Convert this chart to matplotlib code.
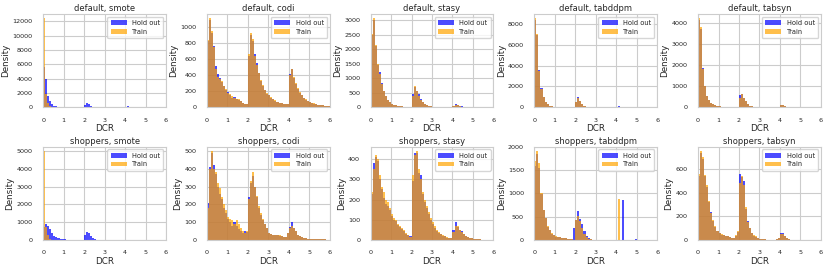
import matplotlib
matplotlib.use("Agg")
import matplotlib.pyplot as plt
from matplotlib.ticker import MaxNLocator
import numpy as np
import seaborn as sns

sns.set_theme(style="whitegrid")
plt.rcParams["font.family"] = ["DejaVu Sans"]

N_BINS = 60
BIN_EDGES = np.round(np.arange(0, 6.0, 0.1), 2)
BIN_WIDTH = 0.1

DATASETS = ["default", "shoppers"]
MODELS = ["smote", "codi", "stasy", "tabddpm", "tabsyn"]


def pad(vals):
    return list(vals) + [0] * (N_BINS - len(vals))


# bin heights per 0.1 DCR bin
default_smote_hold = pad([5700, 3900, 1650, 900, 500, 250, 150, 80, 50, 30, 20, 10, 5, 0, 0, 0, 0, 0, 0, 0,
                          300, 650, 450, 250, 100, 40, 20, 0, 0, 0, 0, 0, 0, 0, 0, 0, 0, 0, 0, 0,
                          60, 150, 60])
default_smote_train = pad([12400, 1900, 600, 150, 60, 20])

default_codi_hold = pad([820, 1080, 920, 760, 510, 410, 370, 320, 260, 220, 190, 150, 120, 125, 110, 95, 75, 55, 45, 40,
                         640, 900, 820, 660, 550, 420, 330, 270, 210, 170, 150, 120, 100, 85, 70, 60, 50, 45, 40, 40,
                         410, 470, 370, 290, 230, 180, 150, 120, 95, 80, 65, 55, 45, 40, 35, 30, 25, 20, 15, 12])
default_codi_train = pad([840, 1100, 940, 750, 470, 380, 350, 330, 270, 230, 180, 160, 140, 115, 110, 100, 80, 60, 45, 40,
                          660, 920, 850, 640, 520, 430, 340, 280, 220, 180, 150, 130, 110, 90, 70, 60, 50, 45, 40, 40,
                          400, 480, 380, 300, 240, 190, 150, 120, 100, 80, 70, 60, 50, 40, 35, 30, 25, 20, 15, 12])

default_stasy_hold = pad([2480, 3000, 2100, 1450, 1200, 850, 560, 390, 270, 190, 130, 100, 80, 60, 50, 40, 30, 20, 15, 10,
                          470, 700, 560, 450, 300, 200, 120, 80, 55, 35, 25, 20, 15, 12, 10, 8, 6, 5, 4, 4,
                          60, 110, 100, 60, 35, 15, 8, 4])
default_stasy_train = pad([2520, 3050, 2150, 1500, 1150, 800, 550, 380, 260, 180, 130, 100, 80, 60, 50, 40, 30, 20, 15, 10,
                           400, 730, 560, 400, 270, 170, 110, 70, 50, 35, 25, 20, 15, 12, 10, 8, 6, 5, 4, 4,
                           50, 100, 90, 60, 30, 15, 8, 4])

default_tabddpm_hold = pad([8400, 6950, 3550, 1850, 1000, 560, 310, 180, 120, 80, 60, 40, 30, 20, 15, 10, 6, 4, 2, 2,
                            480, 1000, 650, 340, 160, 80, 40, 20, 10, 5, 0, 0, 0, 0, 0, 0, 0, 0, 0, 0,
                            40, 100, 70, 20])
default_tabddpm_train = pad([8500, 7000, 3500, 1800, 1000, 550, 300, 180, 120, 80, 60, 40, 30, 20, 15, 10, 6, 4, 2, 2,
                             500, 900, 600, 320, 150, 80, 40, 20, 10, 5, 0, 0, 0, 0, 0, 0, 0, 0, 0, 0,
                             40, 80, 60, 20])

default_tabsyn_hold = pad([4150, 3700, 1850, 1000, 560, 350, 220, 150, 100, 70, 50, 35, 25, 15, 10, 8, 5, 3, 2, 2,
                           600, 640, 450, 280, 160, 90, 50, 30, 15, 8, 0, 0, 0, 0, 0, 0, 0, 0, 0, 0,
                           100, 120, 80, 40, 10])
default_tabsyn_train = pad([4200, 3800, 1800, 1000, 550, 350, 220, 150, 100, 70, 50, 35, 25, 15, 10, 8, 5, 3, 2, 2,
                            450, 650, 450, 280, 160, 90, 50, 30, 15, 8, 0, 0, 0, 0, 0, 0, 0, 0, 0, 0,
                            100, 110, 80, 40, 10])

shoppers_smote_hold = pad([750, 920, 800, 600, 400, 250, 180, 130, 80, 60, 40, 25, 15, 10, 5, 0, 0, 0, 0, 0,
                           300, 450, 380, 250, 130, 60, 20, 0, 0, 0, 0, 0, 0, 0, 0, 0, 0, 0, 0, 0,
                           10, 20, 10])
shoppers_smote_train = pad([5000, 720, 300, 60, 20])

shoppers_codi_hold = pad([210, 410, 490, 420, 370, 300, 260, 230, 180, 150, 120, 100, 80, 100, 80, 60, 50, 40, 50, 45,
                          240, 320, 360, 300, 240, 180, 140, 110, 90, 65, 40, 35, 30, 30, 30, 25, 20, 15, 15, 40,
                          75, 100, 70, 50, 30, 20, 15, 10, 10, 8, 8, 5, 5, 4, 4, 3, 8, 3, 2, 2])
shoppers_codi_train = pad([180, 400, 500, 400, 380, 320, 290, 240, 200, 170, 130, 120, 110, 90, 110, 90, 70, 50, 40, 50,
                           230, 330, 380, 300, 250, 190, 150, 120, 90, 70, 40, 35, 30, 30, 30, 30, 20, 15, 15, 40,
                           70, 80, 70, 50, 30, 20, 15, 10, 10, 8, 8, 5, 5, 4, 4, 3, 3, 3, 2, 2])

shoppers_stasy_hold = pad([230, 380, 410, 390, 300, 250, 210, 180, 170, 150, 120, 100, 95, 75, 65, 55, 45, 30, 25, 20,
                           290, 430, 430, 330, 320, 230, 190, 160, 130, 100, 80, 60, 45, 35, 28, 22, 18, 12, 10, 8,
                           50, 90, 65, 50, 45, 30, 20, 15, 10, 8, 6, 4, 3, 3, 2, 2, 1, 1, 0, 0])
shoppers_stasy_train = pad([240, 350, 420, 400, 320, 260, 240, 200, 190, 160, 130, 110, 100, 80, 70, 60, 50, 35, 25, 15,
                            320, 420, 440, 350, 300, 240, 200, 170, 140, 110, 90, 70, 50, 40, 30, 25, 20, 15, 10, 10,
                            40, 70, 70, 50, 40, 30, 20, 15, 10, 8, 5, 4, 3, 3, 2, 2, 1, 1, 0, 0])

shoppers_tabddpm_hold = pad([1600, 1850, 1550, 980, 640, 470, 290, 210, 140, 100, 75, 65, 55, 45, 40, 40, 30, 20, 15, 250,
                             420, 620, 450, 350, 200, 80, 40, 20, 10, 5, 0, 0, 0, 0, 0, 0, 0, 0, 0, 0,
                             0, 0, 0, 870, 0, 0, 0, 0, 0, 30])
shoppers_tabddpm_train = pad([1700, 1910, 1650, 1000, 650, 480, 300, 220, 150, 110, 80, 70, 60, 50, 40, 40, 30, 20, 15, 10,
                              420, 520, 400, 250, 120, 60, 30, 20, 10, 5, 0, 0, 0, 0, 0, 0, 0, 0, 0, 0,
                              0, 880])

shoppers_tabsyn_hold = pad([540, 730, 680, 540, 450, 320, 240, 160, 110, 80, 60, 45, 40, 35, 30, 25, 20, 20, 35, 70,
                            560, 530, 500, 260, 160, 100, 60, 35, 25, 15, 10, 8, 5, 4, 3, 3, 2, 2, 10, 20,
                            60, 60, 30, 15, 5])
shoppers_tabsyn_train = pad([560, 750, 700, 550, 460, 330, 230, 170, 120, 80, 60, 50, 40, 30, 30, 25, 20, 20, 40, 80,
                             480, 540, 460, 280, 150, 100, 60, 40, 30, 15, 10, 8, 5, 4, 3, 3, 2, 2, 10, 20,
                             50, 50, 30, 15, 5])

HOLD = {
    ("default", "smote"): default_smote_hold,
    ("default", "codi"): default_codi_hold,
    ("default", "stasy"): default_stasy_hold,
    ("default", "tabddpm"): default_tabddpm_hold,
    ("default", "tabsyn"): default_tabsyn_hold,
    ("shoppers", "smote"): shoppers_smote_hold,
    ("shoppers", "codi"): shoppers_codi_hold,
    ("shoppers", "stasy"): shoppers_stasy_hold,
    ("shoppers", "tabddpm"): shoppers_tabddpm_hold,
    ("shoppers", "tabsyn"): shoppers_tabsyn_hold,
}
TRAIN = {
    ("default", "smote"): default_smote_train,
    ("default", "codi"): default_codi_train,
    ("default", "stasy"): default_stasy_train,
    ("default", "tabddpm"): default_tabddpm_train,
    ("default", "tabsyn"): default_tabsyn_train,
    ("shoppers", "smote"): shoppers_smote_train,
    ("shoppers", "codi"): shoppers_codi_train,
    ("shoppers", "stasy"): shoppers_stasy_train,
    ("shoppers", "tabddpm"): shoppers_tabddpm_train,
    ("shoppers", "tabsyn"): shoppers_tabsyn_train,
}

fig, axes = plt.subplots(2, 5, figsize=(8.3, 2.7), dpi=100)
fig.subplots_adjust(left=0.052, right=0.989, top=0.948, bottom=0.111, wspace=0.333, hspace=0.42)

for r, ds in enumerate(DATASETS):
    for c, model in enumerate(MODELS):
        ax = axes[r, c]
        ax.bar(BIN_EDGES, HOLD[(ds, model)], width=BIN_WIDTH, align="edge",
               color="blue", alpha=0.7, linewidth=0, label="Hold out")
        ax.bar(BIN_EDGES, TRAIN[(ds, model)], width=BIN_WIDTH, align="edge",
               color="orange", alpha=0.7, linewidth=0, label="Train")
        ax.set_xlim(0, 6)
        ax.set_xticks(range(7))
        ax.yaxis.set_major_locator(MaxNLocator(nbins=7, steps=[1, 2, 2.5, 5, 10]))
        ax.set_title(f"{ds}, {model}", fontsize=6, pad=2)
        ax.set_xlabel("DCR", fontsize=6.3, labelpad=1)
        ax.set_ylabel("Density", fontsize=6.3, labelpad=1.5)
        ax.tick_params(axis="both", labelsize=4.6, pad=1.5)
        for s in ax.spines.values():
            s.set_linewidth(0.8)
        ax.grid(linewidth=0.8)
        ax.legend(loc="upper right", fontsize=4.8, handlelength=2.4, borderpad=0.5,
                  labelspacing=0.4, handletextpad=0.8, borderaxespad=0.4)

fig.savefig("out.png", dpi=100)
